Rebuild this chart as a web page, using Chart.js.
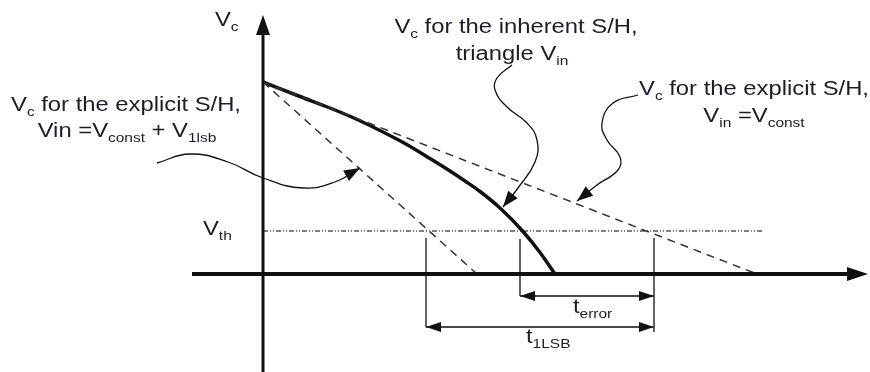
<!DOCTYPE html>
<html>
<head>
<meta charset="utf-8">
<script src="https://cdn.jsdelivr.net/npm/chart.js"></script>
<style>
  html, body { margin: 0; padding: 0; background: #fff; }
  #wrap { width: 870px; height: 372px; }
</style>
</head>
<body>
<div id="wrap"><canvas id="diagram"></canvas></div>
<script>
// t = time from the sampling instant, v = capacitor voltage (axes cross at 0,0)

// Vc for the inherent S/H, triangle Vin
const curveT = [0, 37, 67, 92, 117, 142, 167, 187, 202, 217, 237, 260, 277, 292];
const curveV = [192, 177.5, 166, 155.5, 143.5, 130.5, 115.5, 103, 93, 82.5, 66, 42.5, 21.5, 0];

// straight discharges of the explicit S/H
const vStart = 192;
const lsbZeroT = 214;    // Vin = Vconst + V1lsb
const constZeroT = 494;  // Vin = Vconst

// threshold and where the three traces cross it
const vth = 43;
const vthEndT = 499;
const crossT = [163, 257, 391];

// callout leaders (label -> trace)
const leaderLsbT = [-106, -73, -35, 0, 40, 72, 97];
const leaderLsbV = [111, 120, 112, 96, 86, 92, 106];
const leaderCurveT = [249, 234, 232, 244, 264, 274, 272, 255, 240];
const leaderCurveV = [209, 196, 184, 167, 151, 134, 112, 86, 67];
const leaderConstT = [375, 350, 339, 344, 357, 355, 334, 314];
const leaderConstV = [179, 171, 151, 134, 117, 104, 89, 73];

const pts = (ts, vs) => ts.map((t, i) => ({ x: t, y: vs[i] }));

const ink = '#111';
const dashInk = '#333';

function line(data, extra) {
  return Object.assign({
    data: data,
    showLine: true,
    pointRadius: 0,
    borderColor: ink,
    borderWidth: 1.5,
    fill: false
  }, extra || {});
}

const datasets = [
  // axes
  line([{ x: -71, y: 0 }, { x: 592, y: 0 }], { borderWidth: 4 }),
  line([{ x: 0, y: -98 }, { x: 0, y: 245 }], { borderWidth: 3 }),
  // Vth level
  line([{ x: 0, y: vth }, { x: vthEndT, y: vth }], { borderWidth: 1, borderColor: '#000', borderDash: [5, 2, 1, 2, 1, 2] }),
  // explicit S/H discharges
  line([{ x: 0, y: vStart }, { x: lsbZeroT, y: 0 }], { borderColor: dashInk, borderDash: [8, 6] }),
  line([{ x: 0, y: vStart }, { x: constZeroT, y: 0 }], { borderColor: dashInk, borderDash: [8, 6] }),
  // inherent S/H
  line(pts(curveT, curveV), { borderWidth: 3.5, cubicInterpolationMode: 'monotone' }),
  // extension lines at the crossings
  line([{ x: crossT[0], y: 36 }, { x: crossT[0], y: -53 }], { borderColor: '#333' }),
  line([{ x: crossT[1], y: 35 }, { x: crossT[1], y: -22 }], { borderColor: '#333' }),
  line([{ x: crossT[2], y: 36 }, { x: crossT[2], y: -58 }], { borderColor: '#333' }),
  // dimension lines
  line([{ x: crossT[1], y: -22 }, { x: crossT[2], y: -22 }]),
  line([{ x: crossT[0], y: -53 }, { x: crossT[2], y: -53 }]),
  // leaders
  line(pts(leaderLsbT, leaderLsbV), { borderWidth: 1.3, tension: 0.45 }),
  line(pts(leaderCurveT, leaderCurveV), { borderWidth: 1.3, tension: 0.45 }),
  line(pts(leaderConstT, leaderConstV), { borderWidth: 1.3, tension: 0.45 })
];

const FONT = "'Liberation Sans', Arial, sans-serif";
const MAIN = 20, SUB = 13;
const STRETCH = 1.19;   // the lettering is set wide

// [text, isSubscript]
const textLabels = [
  { t: -48, v: 248, align: 'left', parts: [['V'], ['c', 1]] },
  { t: -60, v: 39, align: 'left', parts: [['V'], ['th', 1]] },
  { t: -137, v: 163, align: 'center', parts: [['V'], ['c', 1], [' for the explicit S/H,']] },
  { t: -136, v: 137, align: 'center', parts: [['Vin =V'], ['const', 1], [' + V'], ['1lsb', 1]] },
  { t: 253, v: 241, align: 'center', parts: [['V'], ['c', 1], [' for the inherent S/H,']] },
  { t: 249, v: 214, align: 'center', parts: [['triangle V'], ['in', 1]] },
  { t: 491, v: 179, align: 'center', parts: [['V'], ['c', 1], [' for the explicit S/H,']] },
  { t: 491, v: 152, align: 'center', parts: [['V'], ['in', 1], [' =V'], ['const', 1]] },
  { t: 310, v: -39, align: 'left', parts: [['t'], ['error', 1]] },
  { t: 263, v: -69, align: 'left', parts: [['t'], ['1LSB', 1]] }
];

function head(ctx, tx, ty, fx, fy, len, half) {
  const a = Math.atan2(ty - fy, tx - fx);
  ctx.save();
  ctx.translate(tx, ty);
  ctx.rotate(a);
  ctx.beginPath();
  ctx.moveTo(0, 0);
  ctx.lineTo(-len, -half);
  ctx.lineTo(-len, half);
  ctx.closePath();
  ctx.fillStyle = ink;
  ctx.fill();
  ctx.restore();
}

function drawParts(ctx, parts, x, y, align) {
  let w = 0;
  parts.forEach(p => {
    ctx.font = (p[1] ? SUB : MAIN) + 'px ' + FONT;
    w += ctx.measureText(p[0]).width;
  });
  ctx.save();
  ctx.translate(align === 'center' ? x - w * STRETCH / 2 : x, y);
  ctx.scale(STRETCH, 1);
  let cx = 0;
  parts.forEach(p => {
    ctx.font = (p[1] ? SUB : MAIN) + 'px ' + FONT;
    ctx.fillText(p[0], cx, p[1] ? 5 : 0);
    cx += ctx.measureText(p[0]).width;
  });
  ctx.restore();
}

const decor = {
  id: 'decor',
  afterDatasetsDraw(chart) {
    const ctx = chart.ctx;
    const X = chart.scales.x, Y = chart.scales.y;
    const px = t => X.getPixelForValue(t);
    const py = v => Y.getPixelForValue(v);

    // axis arrows
    head(ctx, px(0), py(259), px(0), py(0), 20, 7);
    head(ctx, px(605), py(0), px(0), py(0), 21, 7);

    // dimension arrows
    head(ctx, px(crossT[1]), py(-22), px(crossT[2]), py(-22), 15, 5);
    head(ctx, px(crossT[2]), py(-22), px(crossT[1]), py(-22), 15, 5);
    head(ctx, px(crossT[0]), py(-53), px(crossT[2]), py(-53), 15, 5);
    head(ctx, px(crossT[2]), py(-53), px(crossT[0]), py(-53), 15, 5);

    // leader arrows
    [[leaderLsbT, leaderLsbV], [leaderCurveT, leaderCurveV], [leaderConstT, leaderConstV]].forEach(([ts, vs]) => {
      const n = ts.length - 1;
      head(ctx, px(ts[n]), py(vs[n]), px(ts[n - 1]), py(vs[n - 1]), 16, 6);
    });

    ctx.save();
    ctx.fillStyle = '#1c1c2a';
    ctx.textBaseline = 'alphabetic';
    ctx.textAlign = 'left';
    textLabels.forEach(l => drawParts(ctx, l.parts, px(l.t), py(l.v), l.align));
    ctx.restore();
  }
};

new Chart(document.getElementById('diagram').getContext('2d'), {
  type: 'scatter',
  data: { datasets: datasets },
  options: {
    responsive: true,
    maintainAspectRatio: false,
    animation: false,
    layout: { padding: 0 },
    plugins: { legend: { display: false }, tooltip: { enabled: false } },
    scales: {
      x: { type: 'linear', min: -263, max: 607, display: false },
      y: { type: 'linear', min: -98, max: 274, display: false }
    }
  },
  plugins: [decor]
});
</script>
</body>
</html>
